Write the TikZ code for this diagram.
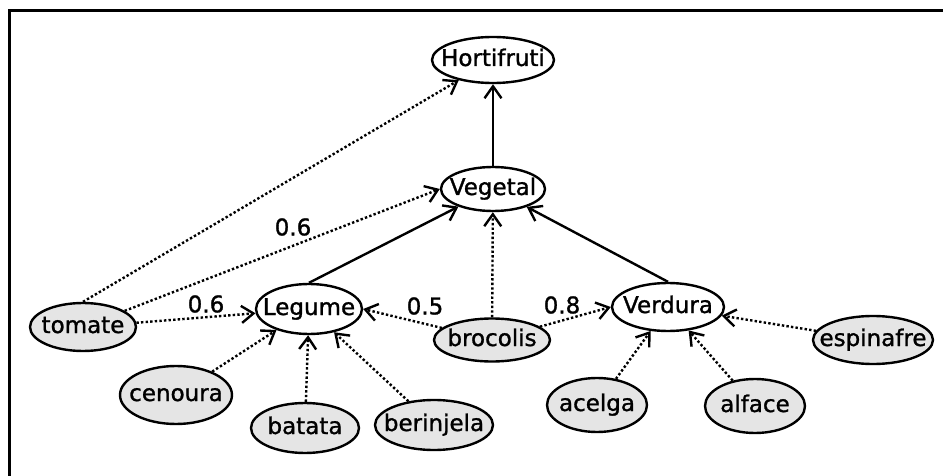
\documentclass[tikz,border=0pt]{standalone}
\usepackage{fontspec}
\setmainfont{DejaVu Sans}[BoldFont={DejaVu Sans}, BoldFeatures={FakeBold=1.2}]
\usetikzlibrary{arrows.meta,shapes.geometric}
\definecolor{leaffill}{RGB}{229,229,229}
\newcommand\ctext[1]{\makebox[0pt]{#1}}

\begin{document}
\begin{tikzpicture}[x=1pt,y=-1pt,
  every node/.style={font=\fontsize{23}{27}\selectfont\bfseries},
  concept/.style={ellipse, draw, line width=2.4pt, fill=white, inner sep=0pt,
    text height=16pt, text depth=4pt},
  instance/.style={concept, fill=leaffill},
  size/.style 2 args={minimum width=#1pt, minimum height=#2pt},
  isa/.style={line width=2.4pt, -{Straight Barb[length=12pt,width=17pt]}},
  sim/.style={isa, dash pattern=on 2.4pt off 2.2pt},
  weight/.style={inner sep=0pt}]

\useasboundingbox (0,0) rectangle (943,476);
\fill[white] (0,0) rectangle (943,476);
% frame
\draw[line width=2.8pt] (9.5,476) -- (9.5,10.5) -- (943,10.5);

% classes
\node[concept, size={122}{46}] (hort) at (493,60)  {\ctext{Hortifruti}};
\node[concept, size={104}{44}] (veg)  at (493,189) {\ctext{Vegetal}};
\node[concept, size={106}{50}] (leg)  at (309,309) {\ctext{Legume}};
\node[concept, size={112}{48}] (verd) at (668,307) {\ctext{Verdura}};

% instances
\node[instance, size={106}{48}] (tom)  at (83,327)  {\ctext{tomate}};
\node[instance, size={116}{43}] (broc) at (492,340) {\ctext{brocolis}};
\node[instance, size={120}{48}] (esp)  at (873,340) {\ctext{espinafre}};
\node[instance, size={112}{58}] (cen)  at (176,395) {\ctext{cenoura}};
\node[instance, size={108}{50}] (bat)  at (305,428) {\ctext{batata}};
\node[instance, size={118}{50}] (ber)  at (434,425) {\ctext{berinjela}};
\node[instance, size={100}{54}] (ace)  at (597,405) {\ctext{acelga}};
\node[instance, size={100}{54}] (alf)  at (755,406) {\ctext{alface}};

% subclass links
\draw[isa] (veg) -- (hort);
\draw[isa] (leg.north) -- (veg);
\draw[isa] (verd.north) -- (veg);

% membership links
\draw[sim] (tom.north) -- (hort);
\draw[sim] (tom) -- (veg.west);
\draw[sim] (tom) -- (leg);
\draw[sim] (cen) -- (leg);
\draw[sim] (bat) -- (leg);
\draw[sim] (ber) -- (leg);
\draw[sim] (broc) -- (leg.east);
\draw[sim] (broc) -- (veg);
\draw[sim] (broc) -- (verd.west);
\draw[sim] (ace) -- (verd);
\draw[sim] (alf) -- (verd);
\draw[sim] (esp) -- (verd);

% membership degrees
\node[weight] (w1) at (293,227) {0.6};
\node[weight] (w2) at (206,304) {0.6};
\node[weight] (w3) at (425,306) {0.5};
\node[weight] (w4) at (562,305) {0.8};
\end{tikzpicture}
\end{document}
